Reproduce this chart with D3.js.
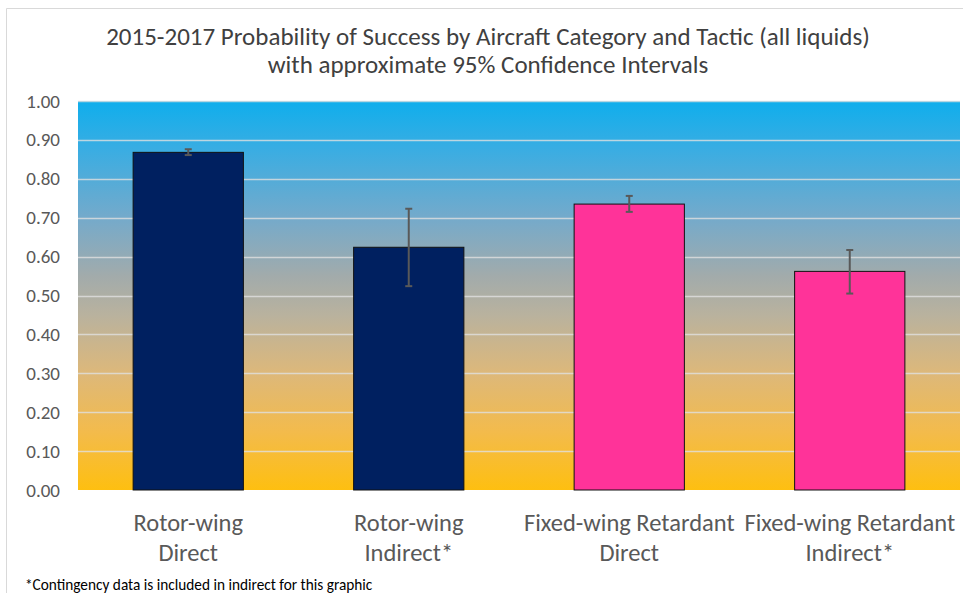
<!DOCTYPE html>
<html><head><meta charset="utf-8">
<script src="https://cdn.jsdelivr.net/npm/d3@7"></script>
<style>body{margin:0;background:#fff;} svg{display:block;}</style>
</head><body>
<svg id="c" width="963" height="593"></svg>
<script>
const categories = [["Rotor-wing","Direct"],["Rotor-wing","Indirect*"],["Fixed-wing Retardant","Direct"],["Fixed-wing Retardant","Indirect*"]];
const values = [0.868, 0.624, 0.735, 0.562];
const ciLow = [0.861, 0.524, 0.715, 0.505];
const ciHigh = [0.876, 0.723, 0.756, 0.617];
const barColors = ["#002060","#002060","#FF3399","#FF3399"];
const yTicks = [0,0.1,0.2,0.3,0.4,0.5,0.6,0.7,0.8,0.9,1.0];
const titleLines = ["2015-2017 Probability of Success by Aircraft Category and Tactic (all liquids)","with approximate 95% Confidence Intervals"];
const footnote = "*Contingency data is included in indirect for this graphic";

const svg = d3.select("#c");
const font = "Carlito, Calibri, 'Open Sans', sans-serif";
const L=78, R=960, T=101, B=490;

// outer chart frame
svg.append("path").attr("d","M6.5,600 V8.5 H970").attr("fill","none").attr("stroke","#d9d9d9").attr("stroke-width",1);

const defs = svg.append("defs");
const grad = defs.append("linearGradient").attr("id","bg").attr("x1",0).attr("y1",0).attr("x2",0).attr("y2",1);
[[0,"#0FAEEC"],[0.12,"#38ADE3"],[0.3,"#74AACB"],[0.45,"#A2ABAB"],[0.55,"#B9B29E"],[0.7,"#DDB87A"],[0.85,"#F3BB4C"],[1,"#FEBF10"]]
 .forEach(([o,c])=>grad.append("stop").attr("offset",o).attr("stop-color",c));

const x = d3.scaleBand().domain(d3.range(categories.length)).range([L,R]).paddingInner(0.5).paddingOuter(0.25);
const y = d3.scaleLinear().domain([0,1]).range([B,T]);

svg.append("rect").attr("x",L).attr("y",T).attr("width",R-L).attr("height",B-T).attr("fill","url(#bg)");

// gridlines
svg.append("g").selectAll("line").data(yTicks.filter(d=>d>0)).join("line")
  .attr("x1",L).attr("x2",R).attr("y1",d=>Math.round(y(d))+0.5).attr("y2",d=>Math.round(y(d))+0.5)
  .attr("stroke","#e0e0e0").attr("stroke-opacity",0.8).attr("stroke-width",1.5);

// y axis
const yAxis = svg.append("g").attr("transform",`translate(${L},0)`)
  .call(d3.axisLeft(y).tickValues(yTicks).tickFormat(d3.format(".2f")).tickSize(0).tickPadding(18));
yAxis.select(".domain").remove();
yAxis.selectAll("text").attr("font-family",font).attr("font-size",19).attr("fill","#595959");

// bars
svg.append("g").selectAll("rect").data(values).join("rect")
  .attr("x",(d,i)=>x(i)).attr("y",d=>y(d)).attr("width",x.bandwidth()).attr("height",d=>B-y(d))
  .attr("fill",(d,i)=>barColors[i]).attr("stroke","#111").attr("stroke-width",1);

// error bars
const eb = svg.append("g").attr("stroke","#595959").attr("stroke-width",2);
values.forEach((v,i)=>{
  const cx = x(i)+x.bandwidth()/2;
  eb.append("line").attr("x1",cx).attr("x2",cx).attr("y1",y(ciLow[i])).attr("y2",y(ciHigh[i]));
  eb.append("line").attr("x1",cx-3.5).attr("x2",cx+3.5).attr("y1",y(ciLow[i])).attr("y2",y(ciLow[i]));
  eb.append("line").attr("x1",cx-3.5).attr("x2",cx+3.5).attr("y1",y(ciHigh[i])).attr("y2",y(ciHigh[i]));
});

// x labels
const xl = svg.append("g");
categories.forEach((lines,i)=>{
  const cx = x(i)+x.bandwidth()/2;
  lines.forEach((t,j)=>{
    xl.append("text").attr("x",cx).attr("y",531+j*30).attr("text-anchor","middle")
      .attr("font-family",font).attr("font-size",24.5).attr("fill","#595959").text(t);
  });
});

// title
const tg = svg.append("g");
titleLines.forEach((t,j)=>{
  tg.append("text").attr("x",488).attr("y",45+j*28).attr("text-anchor","middle")
    .attr("font-family",font).attr("font-size",25).attr("fill","#404040").text(t);
});

svg.append("text").attr("x",25).attr("y",590).attr("font-family",font).attr("font-size",15.3).attr("fill","#000").text(footnote);
</script>
</body></html>
